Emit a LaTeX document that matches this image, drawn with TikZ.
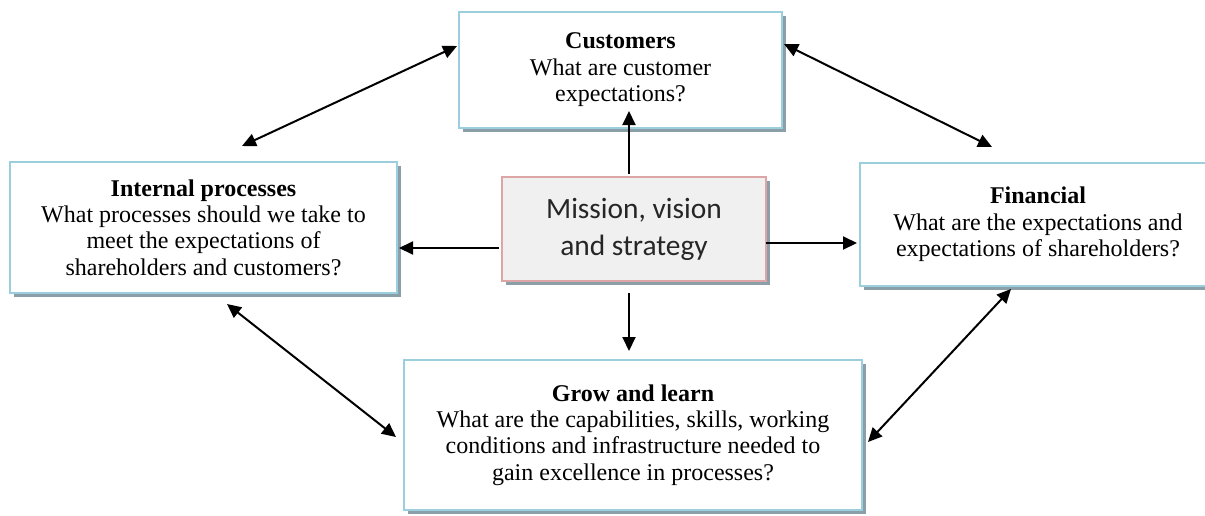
\documentclass[tikz,border=0pt]{standalone}
\usepackage{fontspec}
\setmainfont{Liberation Serif}
\newfontfamily\calfont{Carlito}
\usetikzlibrary{shadows,arrows.meta,calc}
\definecolor{edgeblue}{HTML}{9CCFDE}
\definecolor{edgerose}{HTML}{DDA5A5}
\definecolor{coregray}{HTML}{F0F0F0}
\definecolor{shadowgray}{HTML}{8A9FA7}
\tikzset{
    box/.style={draw=edgeblue, line width=1pt, fill=white, align=center, inner sep=0pt,
        font=\fontsize{12}{13.2}\selectfont,
        drop shadow={shadow xshift=2pt, shadow yshift=-2pt, fill=shadowgray, opacity=1}},
    core/.style={box, draw=edgerose, fill=coregray, text=black!85,
        font=\calfont\fontsize{14.7}{18.5}\selectfont},
    link/.style={-{Triangle[length=7pt,width=6.5pt]}, line width=1pt},
    twoway/.style={link, {Triangle[length=7pt,width=6.5pt]}-{Triangle[length=7pt,width=6.5pt]}}
}
\begin{document}
\begin{tikzpicture}[x=0.5pt,y=-0.5pt]
    \useasboundingbox (0,0) rectangle (1205,515);
    \node[box, minimum width=161.5pt, minimum height=58pt] (cust) at (620.5,70)
        {\textbf{Customers}\\What are customer\\expectations?};
    \node[box, minimum width=193.5pt, minimum height=65.5pt] (inner) at (203.5,227.5)
        {\textbf{Internal processes}\\What processes should we take to\\meet the expectations of\\shareholders and customers?};
    \node[box, minimum width=178pt, minimum height=61.5pt] (fin) at (1038,224.5)
        {\textbf{Financial}\\What are the expectations and\\expectations of shareholders?};
    \node[box, minimum width=229pt, minimum height=75pt] (grow) at (633,435)
        {\textbf{Grow and learn}\\What are the capabilities, skills, working\\conditions and infrastructure needed to\\gain excellence in processes?};
    \node[core, minimum width=132pt, minimum height=52pt] (mission) at (634,229)
        {Mission, vision\\and strategy};
    \draw[link] ($(mission.north)+(-5,-2)$) -- ($(cust.south)+(8.5,-18)$);
    \draw[link] ($(mission.south)+(-5,11)$) -- ($(grow.north)+(-4,-8)$);
    \draw[link] ($(mission.west)+(-2,19)$) -- ($(inner.east)+(1,20.5)$);
    \draw[link] ($(mission.east)+(-1,14)$) -- ($(fin.west)+(-2,18.5)$);
    \draw[twoway] ($(cust.north west)+(-1,35)$) -- ($(inner.north west)+(233,-15)$);
    \draw[twoway] ($(cust.north east)+(1,33)$) -- ($(fin.north west)+(133,-15)$);
    \draw[twoway] ($(inner.south west)+(218,10)$) -- ($(grow.north west)+(-7,78)$);
    \draw[twoway] ($(fin.south west)+(152,2)$) -- ($(grow.north east)+(5,83)$);
\end{tikzpicture}
\end{document}
